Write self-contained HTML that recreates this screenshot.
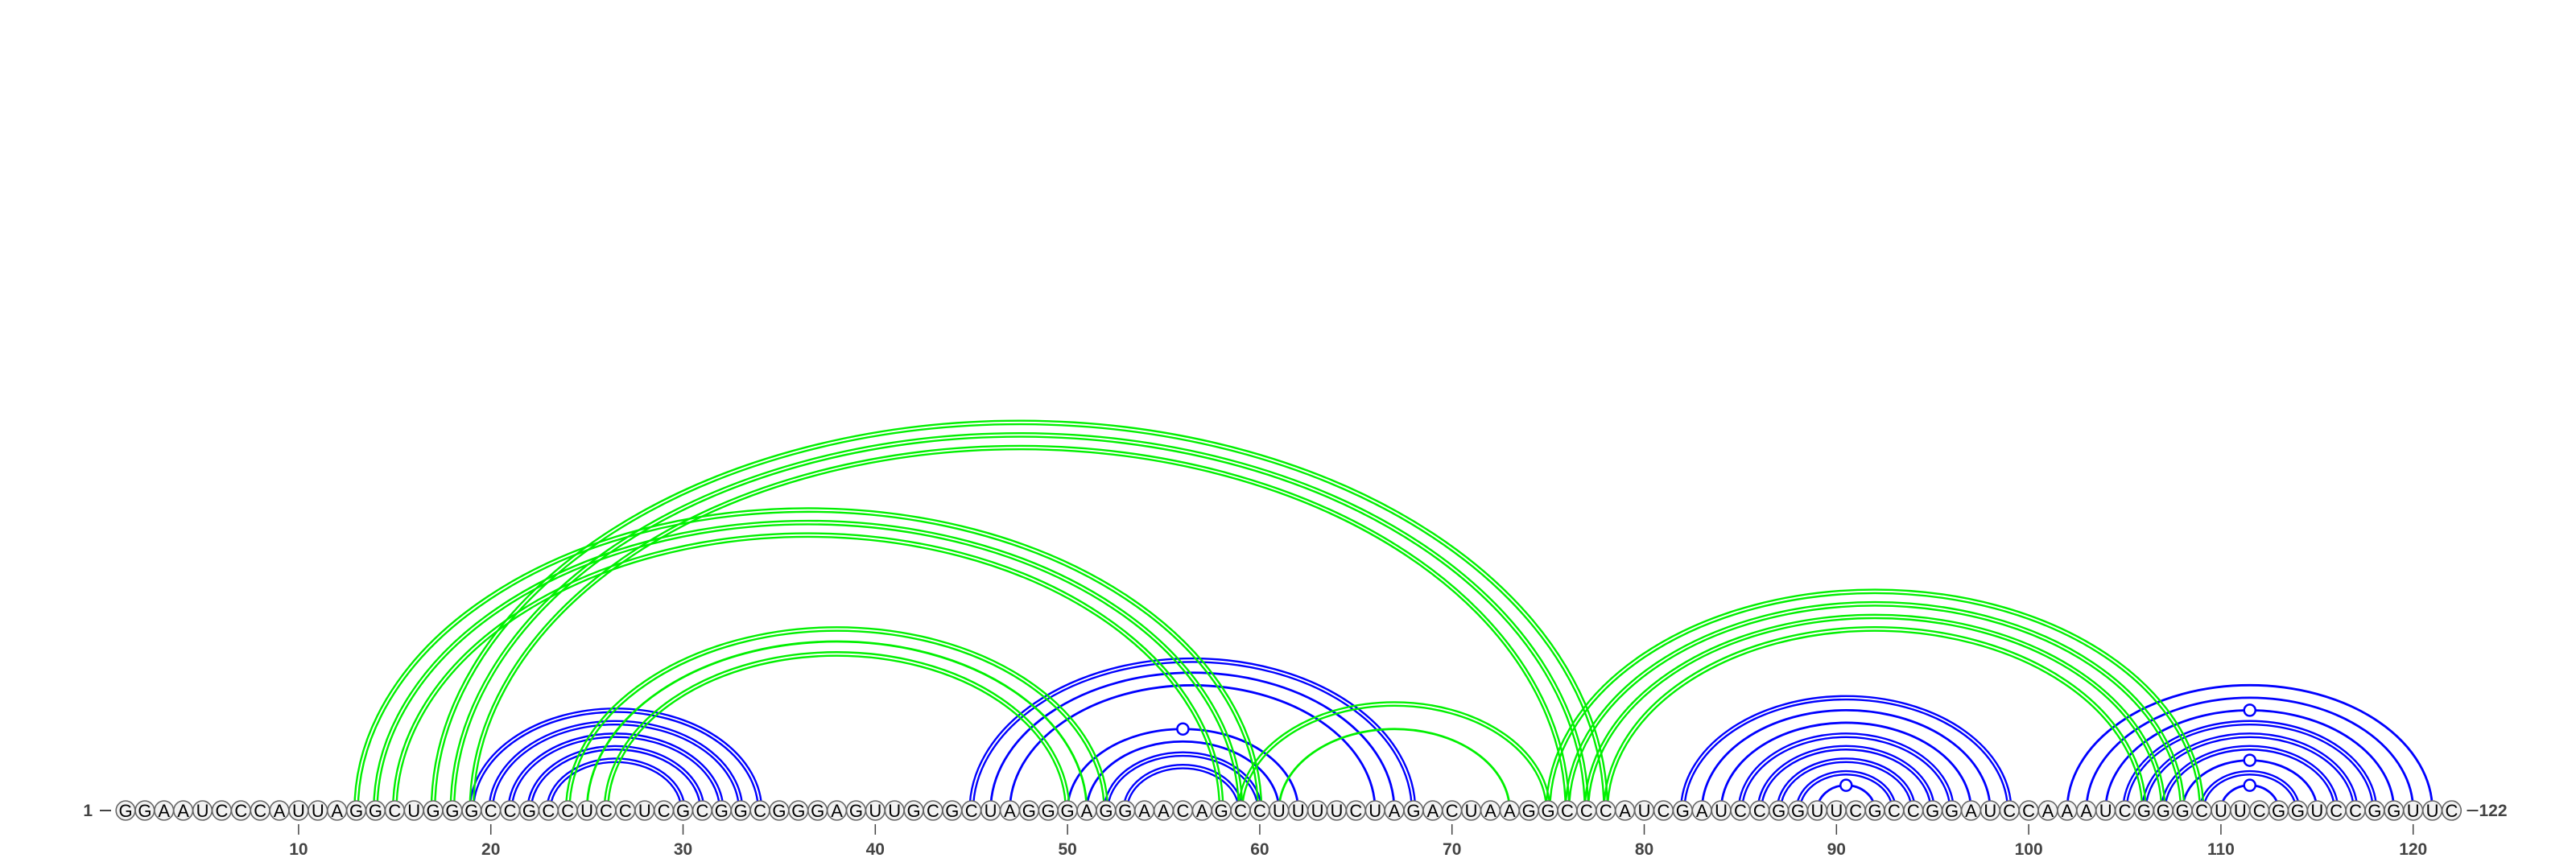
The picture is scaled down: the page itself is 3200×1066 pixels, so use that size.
<!DOCTYPE html>
<html><head><meta charset="utf-8"><style>
html,body{margin:0;padding:0;background:#fff;}
svg{display:block;}
text{font-family:"Liberation Sans",sans-serif;}
</style></head><body>
<svg id="chart" width="3200" height="1066" viewBox="0 0 3200 1066" xmlns="http://www.w3.org/2000/svg">
<g id="arcs-blue"></g>
<g id="arcs-green"></g>
<g id="markers"></g>
<g id="seq"></g>
<g id="axis"></g>
</svg>
<script>
const sequence = "GGAAUCCCAUUAGGCUGGGCCGCCUCCUCGCGGCGGGAGUUGCGCUAGGGAGGAACAGCCUUUUCUAGACUAAGGCCCAUCGAUCCGGUUCGCCGGAUCCAAAUCGGGCUUCGGUCCGGUUC";
const blueStart  = [19,20,21,22,23,45,46,47,50,51,52,53,82,83,84,85,86,87,88,89,102,103,104,105,106,107,108,109,110];
const blueEnd    = [34,33,32,31,30,68,67,66,62,61,60,59,99,98,97,96,95,94,93,92,121,120,119,118,117,116,115,114,113];
const blueDouble = [1,1,1,1,1,1,0,0,0,0,1,1,1,0,0,1,1,1,1,0,0,0,0,1,1,1,0,1,0];
const blueMarker = [0,0,0,0,0,0,0,0,1,0,0,0,0,0,0,0,0,0,0,1,0,0,1,0,0,0,1,0,1];
const greenStart  = [13,14,15,17,18,19,24,25,26,59,61,75,76,77,78];
const greenEnd    = [60,59,58,78,77,76,52,51,50,75,73,109,108,107,106];
const greenDouble = [1,1,1,1,1,1,1,0,1,1,0,1,1,1,1];
const tickLabels = [10,20,30,40,50,60,70,80,90,100,110,120];

const NS = "http://www.w3.org/2000/svg";
const BASE = 1007;
function xPos(i){ return 156 + (i-1)*23.88; }
function arcHeight(w){ return 0.651*w + 8; }
function mk(tag, attrs, parent){
  const e = document.createElementNS(NS, tag);
  for (const k in attrs) e.setAttribute(k, attrs[k]);
  parent.appendChild(e); return e;
}
function arcPath(x1, x2, off){
  const w = (x2-x1)/2, h = arcHeight(w);
  const rx = w+off, ry = h+off;
  const cx = (x1+x2)/2;
  return `M ${cx-rx} ${BASE} A ${rx} ${ry} 0 0 1 ${cx+rx} ${BASE}`;
}
function drawArcs(starts, ends, doubles, color, group, name){
  for (let k=0;k<starts.length;k++){
    const x1 = xPos(starts[k]), x2 = xPos(ends[k]);
    const g = mk('g', {}, group);
    
    
    if (doubles[k]){
      mk('path', {d: arcPath(x1,x2,-2.2), fill:'none', stroke:color, 'stroke-width':2.4}, g);
      mk('path', {d: arcPath(x1,x2,2.2), fill:'none', stroke:color, 'stroke-width':2.4}, g);
    } else {
      mk('path', {d: arcPath(x1,x2,0), fill:'none', stroke:color, 'stroke-width':2.8}, g);
    }
  }
}
drawArcs(blueStart, blueEnd, blueDouble, '#0000ff', document.getElementById('arcs-blue'), 'blue-arc');
drawArcs(greenStart, greenEnd, greenDouble, '#00f000', document.getElementById('arcs-green'), 'green-arc');

const markers = document.getElementById('markers');
for (let k=0;k<blueStart.length;k++){
  if (!blueMarker[k]) continue;
  const x1 = xPos(blueStart[k]), x2 = xPos(blueEnd[k]);
  const h = arcHeight((x2-x1)/2);
  const c = mk('circle', {cx:(x1+x2)/2, cy:BASE-h, r:7, fill:'#fff', stroke:'#0000ff', 'stroke-width':2.5}, markers);
  
  
}

const seq = document.getElementById('seq');
for (let i=1;i<=sequence.length;i++){
  const g = mk('g', {}, seq);
  
  
  mk('ellipse', {cx:xPos(i), cy:BASE, rx:11.8, ry:12, fill:'#f2f2f2', stroke:'#666', 'stroke-width':1.6}, g);
  const t = mk('text', {x:xPos(i), y:BASE+8, 'text-anchor':'middle', 'font-size':22, fill:'#000'}, g);
  t.textContent = sequence[i-1];
}

const axis = document.getElementById('axis');
const startLbl = mk('text', {x:115, y:BASE+7, 'text-anchor':'end', 'font-size':21, 'font-weight':'bold', fill:'#444'}, axis);
startLbl.textContent = '1';


mk('line', {x1:124, y1:BASE, x2:138, y2:BASE, stroke:'#444', 'stroke-width':2}, axis);
const n = sequence.length;
mk('line', {x1:xPos(n)+19, y1:BASE, x2:xPos(n)+33, y2:BASE, stroke:'#444', 'stroke-width':2}, axis);
const endLbl = mk('text', {x:xPos(n)+34, y:BASE+7, 'text-anchor':'start', 'font-size':21, 'font-weight':'bold', fill:'#444'}, axis);
endLbl.textContent = String(n);


for (const v of tickLabels){
  const l = mk('line', {x1:xPos(v), y1:1024, x2:xPos(v), y2:1037, stroke:'#444', 'stroke-width':1.5}, axis);
  
  
  const t = mk('text', {x:xPos(v), y:1062, 'text-anchor':'middle', 'font-size':21, 'font-weight':'bold', fill:'#444'}, axis);
  t.textContent = String(v);
  
  
}
</script>
</body></html>
